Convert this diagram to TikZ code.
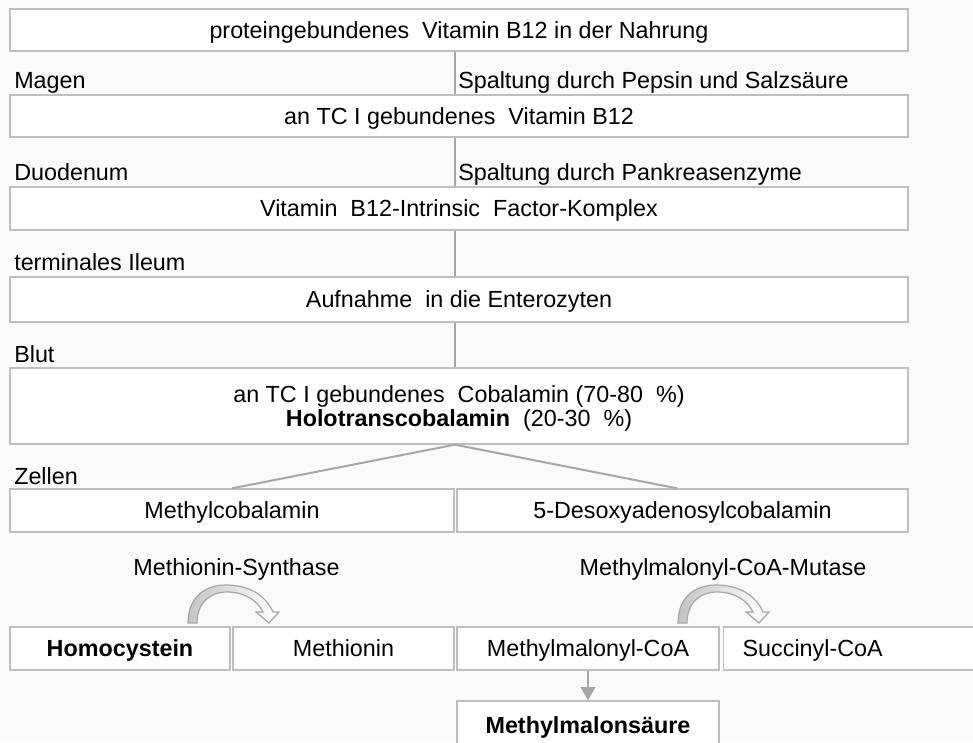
\documentclass[tikz,border=0pt]{standalone}
\usepackage{fontspec}
\setmainfont{Liberation Sans}
\usetikzlibrary{arrows.meta}
\definecolor{randgrau}{HTML}{BFBFBF}
\definecolor{liniengrau}{HTML}{A6A6A6}
\definecolor{pfeilgrau}{HTML}{C4C4C4}
\definecolor{hintergrund}{HTML}{FAFAFA}
\newcommand{\pxu}{0.75pt}

\begin{document}
\begin{tikzpicture}[x=0.75pt,y=-0.75pt,font=\fontsize{17.5}{18.2}\selectfont]
	\tikzstyle{box}=[draw=randgrau,line width=1pt,fill=white,inner sep=0pt,
					 text height=12.5pt,text depth=0pt,minimum height=43*\pxu]
	\tikzstyle{lbl}=[inner sep=0pt,anchor=base west]
	\tikzstyle{conn}=[draw=liniengrau,line width=1.5pt]
	\tikzstyle{bogen}=[draw=liniengrau,line width=0.9pt,
					   left color=pfeilgrau,right color=white]

	\clip (0,0) rectangle (973,742);
	\fill[hintergrund] (0,0) rectangle (973,742);

	% Weg durch den Darm
	\node[box,minimum width=898*\pxu,minimum height=42*\pxu] (nahrung) at (459,30)
		{proteingebundenes~ Vitamin B12 in der Nahrung};
	\node[box,minimum width=898*\pxu,minimum height=42*\pxu] (gebunden) at (459,116)
		{an TC I gebundenes~ Vitamin B12};
	\node[box,minimum width=898*\pxu] (komplex) at (459,208.5)
		{Vitamin~ B12-Intrinsic~ Factor-Komplex};
	\node[box,minimum width=898*\pxu,minimum height=45*\pxu] (entero) at (459,299.5)
		{Aufnahme~ in die Enterozyten};
	\node[box,minimum width=898*\pxu,minimum height=76*\pxu,align=center,
		  text height=30.7pt] (plasma) at (459,406)
		{an TC I gebundenes~ Cobalamin (70-80~ \%)\\
		 \textbf{Holotranscobalamin}~ (20-30~ \%)};

	% Orte und Schritte
	\node[lbl] (magen) at (14,89) {Magen};
	\node[lbl] (pepsin) at (458,89) {Spaltung durch Pepsin und Salzs\"aure};
	\node[lbl] (duodenum) at (14,180) {Duodenum};
	\node[lbl] (pankreas) at (458,180) {Spaltung durch Pankreasenzyme};
	\node[lbl] (ileum) at (14,270) {terminales Ileum};
	\node[lbl] (blut) at (14,362) {Blut};
	\node[lbl] (zellen) at (14,484) {Zellen};

	% Coenzyme
	\node[box,minimum width=444*\pxu] (mecbl) at (232,510.5) {Methylcobalamin};
	\node[box,minimum width=451*\pxu] (adocbl) at (682.5,510.5) {5-Desoxyadenosylcobalamin};

	% Reaktionen
	\foreach \name/\x/\w/\txt in {hcy/120/220/\textbf{Homocystein},
								  met/343.5/221/Methionin,
								  mmacoa/588/262/Methylmalonyl-CoA}
		\node[box,minimum width=\w*\pxu] (\name) at (\x,648.5) {\txt};
	\node[box,anchor=west,align=left,text width=300*\pxu,inner xsep=19*\pxu]
		(succoa) at (723,648.5) {Succinyl-CoA};
	\node[box,minimum width=262*\pxu,minimum height=48*\pxu] (mma) at (588,725)
		{\textbf{Methylmalons\"aure}};

	\node[inner sep=0pt,anchor=base] (metsyn) at (236.5,575) {Methionin-Synthase};
	\node[inner sep=0pt,anchor=base] (mutase) at (723,575) {Methylmalonyl-CoA-Mutase};

	% Linien
	\foreach \oben/\unten in {nahrung/gebunden, gebunden/komplex,
							  komplex/entero, entero/plasma}
		\draw[conn] ([xshift=-3pt]\oben.south) -- ([xshift=-3pt]\unten.north);
	\draw[conn] ([xshift=-3pt]plasma.south) -- (mecbl.north);
	\draw[conn] ([xshift=-3pt]plasma.south) -- ([xshift=-4pt]adocbl.north);
	\draw[conn,-{Triangle[length=10pt,width=11pt]}] (mmacoa.south) -- (mma.north);

	% gebogene Pfeile
	\foreach \dx in {0,490}
		\draw[bogen,shift={(\dx,0)}] (188,623) .. controls (188,598) and (204,585) .. (226,585)
			.. controls (250,585) and (266,596) .. (273,612) -- (279,612) -- (269,623)
			-- (256,612) -- (263,612) .. controls (257,600) and (244,592) .. (227,592)
			.. controls (210,592) and (197,603) .. (197,623) -- cycle;
\end{tikzpicture}
\end{document}
